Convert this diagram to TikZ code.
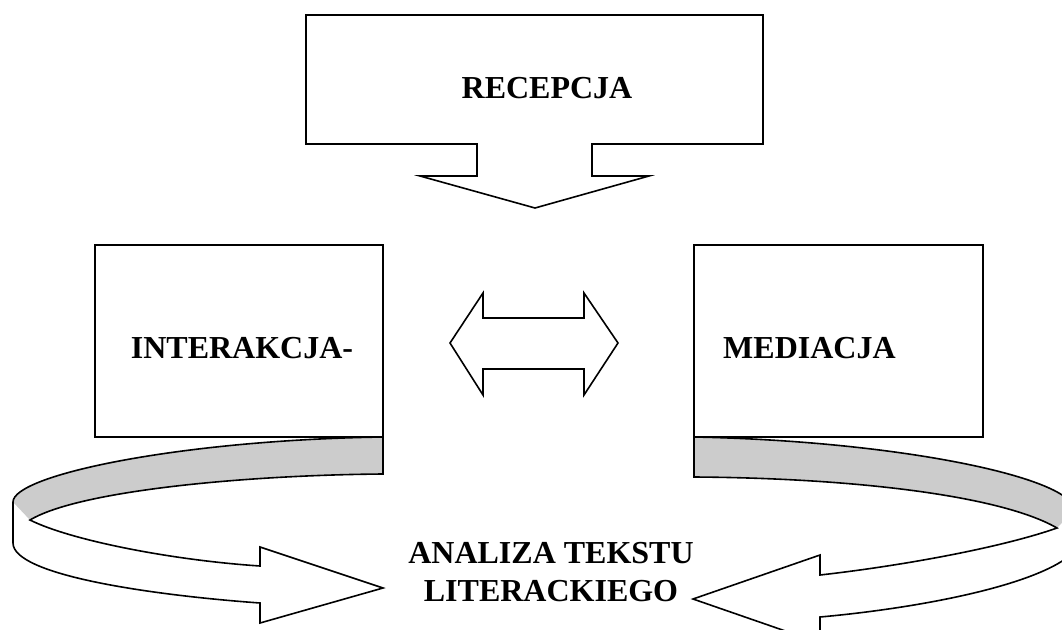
\documentclass[tikz,border=0pt]{standalone}
\usepackage{fontspec}
\setmainfont{Liberation Serif}
\begin{document}
\begin{tikzpicture}[x=1pt,y=-1pt,line join=miter,
  outl/.style={draw=black,line width=1.6pt},
  lbl/.style={font=\fontsize{32}{38}\selectfont\bfseries,inner sep=0pt,align=center},
  boxst/.style={outl,fill=white,minimum width=#1,minimum height=192pt,inner sep=0pt},
  band/.style={fill=black!20,draw=none}]
\useasboundingbox (0,0) rectangle (1062,629);
\fill[white] (0,0) rectangle (1062,629);

% RECEPCJA callout with down arrow
\draw[outl,fill=white] (306,15) -- (763,15) -- (763,144) -- (592,144) -- (592,176) -- (649,176)
  -- (535,208) -- (420,176) -- (477,176) -- (477,144) -- (306,144) -- cycle;
\node[lbl] (recepcja) at (547,88) {RECEPCJA};

% side boxes
\node[boxst=288pt] (inter) at (239,341) {};
\node[lbl] (intert) at (242,348) {INTERAKCJA-};
\node[boxst=289pt] (med) at (838.5,341) {};
\node[lbl,anchor=west] (medt) at (723,348) {MEDIACJA};

% double arrow
\draw[outl,fill=white] (450,343) -- (483,293) -- (483,318) -- (584,318) -- (584,293) -- (618,343)
  -- (584,395) -- (584,369) -- (483,369) -- (483,395) -- cycle;

% left ribbon arrow
\fill[white] (383,437) .. controls (180,440) and (13,475) .. (13,502) -- (13,543)
  .. controls (13,575) and (150,595) .. (260,603) -- (260,623) -- (383,588) -- (260,547) -- (260,566)
  .. controls (170,560) and (70,540) .. (30,520) .. controls (80,490) and (250,475) .. (383,474) -- cycle;
\fill[band] (383,437) .. controls (180,440) and (13,475) .. (13,502) -- (30,520)
  .. controls (80,490) and (250,475) .. (383,474) -- cycle;
\draw[outl] (383,437) .. controls (180,440) and (13,475) .. (13,502) -- (13,543)
  .. controls (13,575) and (150,595) .. (260,603) -- (260,623) -- (383,588) -- (260,547) -- (260,566)
  .. controls (170,560) and (70,540) .. (30,520) .. controls (80,490) and (250,475) .. (383,474) -- cycle;

% right ribbon arrow (clipped by the page edge)
\begin{scope}
\clip (0,0) rectangle (1062,629);
\fill[white] (694,437) .. controls (900,441) and (1074,478) .. (1074,510) -- (1074,552)
  .. controls (1040,585) and (920,608) .. (820,617) -- (820,643) -- (693,599) -- (820,555) -- (820,575)
  .. controls (900,566) and (1000,548) .. (1057,528) .. controls (1000,495) and (850,478) .. (694,477) -- cycle;
\fill[band] (694,437) .. controls (900,441) and (1074,478) .. (1074,510) -- (1057,528)
  .. controls (1000,495) and (850,478) .. (694,477) -- cycle;
\draw[outl] (694,437) .. controls (900,441) and (1074,478) .. (1074,510) -- (1074,552)
  .. controls (1040,585) and (920,608) .. (820,617) -- (820,643) -- (693,599) -- (820,555) -- (820,575)
  .. controls (900,566) and (1000,548) .. (1057,528) .. controls (1000,495) and (850,478) .. (694,477) -- cycle;
\end{scope}

\node[lbl] (analiza) at (551,572) {ANALIZA TEKSTU\\LITERACKIEGO};
\end{tikzpicture}
\end{document}
